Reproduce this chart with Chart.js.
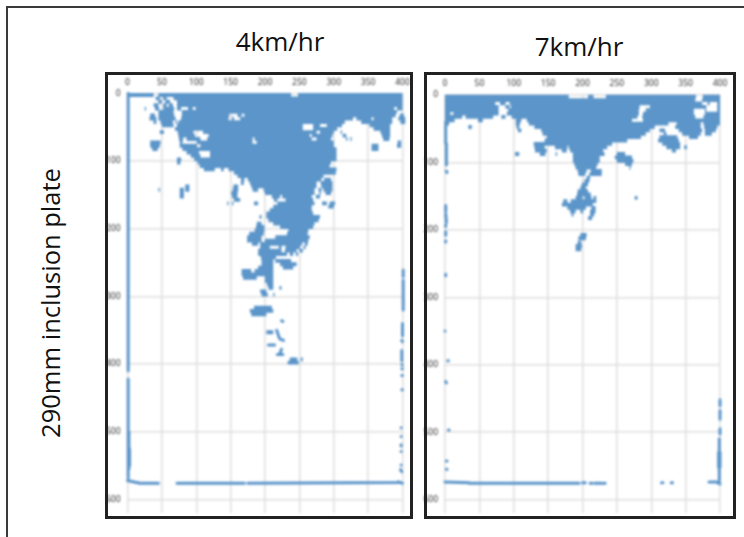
<!DOCTYPE html>
<html>
<head>
<meta charset="utf-8">
<title>290mm inclusion plate</title>
<script src="https://cdn.jsdelivr.net/npm/chart.js@4"></script>
<style>
  html, body { margin: 0; padding: 0; background: #fff; }
  #page { position: relative; width: 744px; height: 537px; overflow: hidden; font-family: 'Open Sans', sans-serif; color: #111; }
  #frame { position: absolute; left: 6px; top: 6px; width: 760px; height: 560px; border: 2px solid #3a3a3a; box-sizing: border-box; }
  .box { position: absolute; top: 72px; height: 447px; border: 3px solid #222; box-sizing: border-box; }
  #box4 { left: 105px; width: 308px; }
  #box7 { left: 424px; width: 312px; }
  canvas { position: absolute; top: 75px; filter: blur(0.8px); }
  #c4 { left: 105px; }
  #c7 { left: 424px; }
  .head { position: absolute; font-size: 26px; line-height: 30px; width: 160px; text-align: center; }
  #side { position: absolute; left: 50px; top: 303px; font-size: 25.5px; line-height: 30px; white-space: nowrap; transform: translate(-50%, -50%) rotate(-90deg); }
</style>
</head>
<body>
<div id="page">
  <div id="frame"></div>
  <div class="box" id="box4"></div>
  <div class="box" id="box7"></div>
  <div class="head" style="left:200px;top:26px">4km/hr</div>
  <div class="head" style="left:499px;top:31px">7km/hr</div>
  <div id="side">290mm inclusion plate</div>
  <canvas id="c4" width="305" height="441"></canvas>
  <canvas id="c7" width="308" height="441"></canvas>
</div>
<script>
  // ── Axis ticks ──
  const X_STEP = 50, Y_STEP = 100;
  const X_MAX = 400, Y_MAX = 620;
  const DOT_BLUE = '#5b95c9';

  // ── 4km/hr: each row is [y, x1, x2, x1, x2, ...] ──
  const rows4km = [
    [2.5, 0,38, 45,238, 248,400],
    [7.5, 41,47, 52,57, 67,400],
    [12.5, 45,50, 55,62, 72,400],
    [17.5, 38,45, 52,57, 60,66, 72,400],
    [22.5, 25,27, 40,46, 52,68, 72,78, 88,95, 99,388, 392,400],
    [27.5, 45,67, 79,392],
    [32.5, 33,40, 45,68, 79,148, 160,166, 170,390, 396,402],
    [37.5, 32,42, 45,70, 78,147, 152,155, 164,328, 333,355, 358,385, 394,404],
    [42.5, 38,42, 48,66, 70,72, 74,316, 340,385, 397,404],
    [47.5, 50,67, 72,255, 270,280, 290,312, 352,382],
    [52.5, 69,255, 270,305, 358,382],
    [57.5, 47,53, 73,96, 110,275, 280,300, 310,312, 368,382],
    [62.5, 74,98, 118,265, 268,298, 313,318, 370,382],
    [67.5, 75,81, 86,106, 116,182, 185,268, 275,296, 318,320, 324,326, 372,381],
    [72.5, 33,48, 76,80, 101,182, 188,300, 393,398],
    [77.5, 33,47, 76,101, 106,300, 355,365, 392,398],
    [82.5, 36,44, 80,304, 355,365],
    [87.5, 86,104, 120,304],
    [92.5, 92,106, 120,304],
    [97.5, 72,78, 97,304],
    [102.5, 72,77, 102,296],
    [107.5, 105,294],
    [112.5, 111,127, 136,140, 147,304],
    [117.5, 155,303],
    [122.5, 160,285],
    [127.5, 165,170, 175,282, 286,296],
    [132.5, 165,169, 178,275, 281,298],
    [137.5, 84,90, 154,161, 180,275, 282,298],
    [142.5, 45,47, 84,90, 76,82, 153,161, 182,190, 198,272, 278,282, 285,298],
    [147.5, 76,82, 151,160, 200,272, 279,281, 288,296],
    [152.5, 76,82, 152,160, 210,222, 225,268, 274,280],
    [157.5, 155,164, 213,218, 230,270],
    [162.5, 145,147, 152,154, 184,190, 218,272, 283,290, 294,302],
    [167.5, 212,268, 292,300],
    [172.5, 207,268],
    [177.5, 202,270],
    [182.5, 192,195, 202,280],
    [187.5, 205,278],
    [192.5, 188,195, 212,272],
    [197.5, 187,199, 222,270],
    [202.5, 185,199, 234,263],
    [207.5, 177,198, 232,262],
    [212.5, 174,195, 215,265],
    [217.5, 174,195, 200,263],
    [222.5, 181,190, 193,254, 258,262],
    [227.5, 193,207, 220,224, 230,251, 256,259],
    [232.5, 190,224, 229,246, 250,255],
    [237.5, 190,232, 236,241, 245,248],
    [242.5, 194,216],
    [247.5, 195,212, 215,238],
    [252.5, 195,212, 222,246],
    [257.5, 190,212, 226,241],
    [262.5, 166,180, 185,212],
    [267.5, 166,212],
    [272.5, 168,188, 200,212],
    [277.5, 200,212],
    [282.5, 203,212],
    [287.5, 205,212, 221,224],
    [292.5, 193,202],
    [297.5, 195,204, 212,214],
    [316.5, 184,210],
    [321.5, 178,212],
    [326.5, 180,202],
    [353, 202,212],
    [393, 236,247, 252,255],
    [398, 233,249]
  ];
  // thin streaks and dots as [x1, y1, x2, y2]
  const edges4km = [
    [1, 0, 1, 410], [1, 422, 1, 568], [2, 500, 2, 555], [3, 525, 3, 550],
    [0, 572, 18, 576], [18, 576, 45, 576], [72, 576, 170, 576], [175, 576, 394, 575], [394, 574, 400, 576],
    [224, 336, 226, 337], [217, 350, 221, 362], [222, 363, 227, 365], [205, 372, 214, 372],
    [224, 378, 222, 384], [218, 386, 226, 386],
    [401, 261, 401, 271], [401, 276, 401, 320], [400, 340, 400, 358], [399, 365, 400, 367],
    [399, 380, 399, 395], [399, 401, 400, 401], [399, 407, 400, 407], [399, 417, 400, 417],
    [399, 438, 400, 438], [398, 494, 399, 494], [398, 507, 399, 507], [398, 519, 398, 521],
    [398, 529, 399, 529], [398, 549, 399, 549], [397, 556, 399, 559]
  ];

  // ── 7km/hr ──
  const rows7km = [
    [2.5, 0,180, 208,216, 234,365, 375,400],
    [7.5, 0,364, 374,400],
    [12.5, 0,73, 80,88, 94,374, 382,385, 396,400],
    [17.5, 0,78, 88,94, 96,283, 298,380, 396,400],
    [22.5, 0,78, 92,282, 292,362, 378,380, 396,400],
    [27.5, 0,8, 12,78, 90,282, 288,362, 378,400],
    [32.5, 0,25, 30,70, 82,88, 97,280, 287,364, 376,400],
    [37.5, 0,14, 48,55, 103,111, 119,272, 288,400],
    [42.5, 0,6, 103,109, 122,325, 337,372, 376,400],
    [47.5, 34,39, 104,108, 130,305, 335,372, 377,396],
    [52.5, 106,111, 140,298, 312,320, 340,374, 378,394],
    [57.5, 142,292, 318,322, 345,372, 378,388],
    [62.5, 148,285, 312,338, 355,368],
    [67.5, 145,265, 310,340],
    [72.5, 129,243, 316,342],
    [77.5, 130,145, 160,178, 180,236, 322,342, 348,352],
    [82.5, 131,148, 170,177, 182,230, 330,336],
    [87.5, 102,108, 138,146, 161,163, 186,232, 250,262],
    [92.5, 186,225, 247,272],
    [97.5, 186,225, 250,274],
    [102.5, 188,222, 262,272],
    [107.5, 190,220, 268,270],
    [112.5, 193,206, 212,228],
    [117.5, 194,204, 210,228],
    [122.5, 206,211],
    [127.5, 203,210],
    [132.5, 199,208],
    [137.5, 197,205],
    [142.5, 193,208],
    [147.5, 192,212],
    [152.5, 190,200, 203,213, 216,220, 276,280],
    [157.5, 172,178, 183,220],
    [162.5, 170,215],
    [167.5, 178,205, 213,219],
    [172.5, 182,190, 197,201, 211,219],
    [177.5, 184,187, 211,217],
    [182.5, 208,214],
    [207.5, 197,206],
    [212.5, 194,205],
    [219, 193,198],
    [224, 190,199],
    [229, 190,198]
  ];
  const edges7km = [
    [1, 40, 1, 72], [2, 72, 2, 104], [2, 113, 3, 115],
    [1, 164, 1, 172], [1, 176, 2, 189], [1, 193, 1, 195], [1, 203, 1, 208], [1, 216, 1, 218], [1, 266, 1, 268],
    [0, 350, 1, 350], [4, 394, 5, 394], [1, 425, 2, 427], [5, 497, 6, 497], [2, 543, 3, 543], [2, 555, 3, 555],
    [0, 574, 35, 575], [35, 576, 195, 576], [200, 575, 204, 575],
    [211, 576, 214, 576], [218, 576, 228, 576], [231, 576, 233, 576],
    [315, 575, 317, 575], [329, 575, 331, 575], [384, 574, 395, 574], [396, 575, 400, 577],
    [400, 452, 400, 461], [400, 468, 400, 481], [400, 495, 400, 503], [399, 510, 399, 532],
    [399, 532, 399, 552], [398, 530, 398, 552], [400, 530, 400, 552], [399, 552, 399, 575]
  ];

  // ── Expand rows and streaks to library points, null breaks the line ──
  function rowPoints(rows) {
    const pts = [];
    rows.forEach(r => {
      for (let i = 1; i < r.length; i += 2) {
        pts.push({ x: r[i], y: r[0] }, { x: r[i + 1], y: r[0] }, { x: null, y: null });
      }
    });
    return pts;
  }
  function edgePoints(edges) {
    const pts = [];
    edges.forEach(e => pts.push({ x: e[0], y: e[1] }, { x: e[2], y: e[3] }, { x: null, y: null }));
    return pts;
  }

  function renderPanel(id, rows, edges, yWidth, xHeight, padRight) {
    const lineSet = (data, width, cap) => ({
      data, showLine: true, spanGaps: false, clip: false,
      borderColor: DOT_BLUE, backgroundColor: DOT_BLUE,
      borderWidth: width, pointRadius: 0, borderCapStyle: cap, tension: 0,
    });
    return new Chart(document.getElementById(id).getContext('2d'), {
      type: 'scatter',
      data: { datasets: [lineSet(rowPoints(rows), 3.8, 'butt'), lineSet(edgePoints(edges), 3, 'round')] },
      options: {
        responsive: false,
        animation: false,
        layout: { padding: { left: 0, top: 0, right: padRight, bottom: 3 } },
        plugins: { legend: { display: false }, tooltip: { enabled: false } },
        scales: {
          x: {
            type: 'linear', position: 'top', min: 0, max: X_MAX,
            afterFit: s => { s.height = xHeight; s.paddingLeft = 0; s.paddingRight = 0; },
            border: { display: false },
            grid: { color: '#dedede', lineWidth: 1.5, drawTicks: false },
            ticks: { stepSize: X_STEP, padding: 6, color: '#222', maxRotation: 0, font: { family: "'Open Sans', sans-serif", size: 8.5 } },
          },
          y: {
            type: 'linear', reverse: true, min: 0, max: Y_MAX,
            afterFit: s => { s.width = yWidth; s.paddingTop = 0; s.paddingBottom = 0; },
            border: { display: false },
            grid: { color: '#dedede', lineWidth: 1.5, drawTicks: false },
            ticks: { stepSize: Y_STEP, includeBounds: false, padding: 7, color: '#222', font: { family: "'Open Sans', sans-serif", size: 8.5 } },
          },
        },
      },
    });
  }

  renderPanel('c4', rows4km, edges4km, 22.5, 18.3, 7.5);
  renderPanel('c7', rows7km, edges7km, 21, 20, 12);
</script>
</body>
</html>
